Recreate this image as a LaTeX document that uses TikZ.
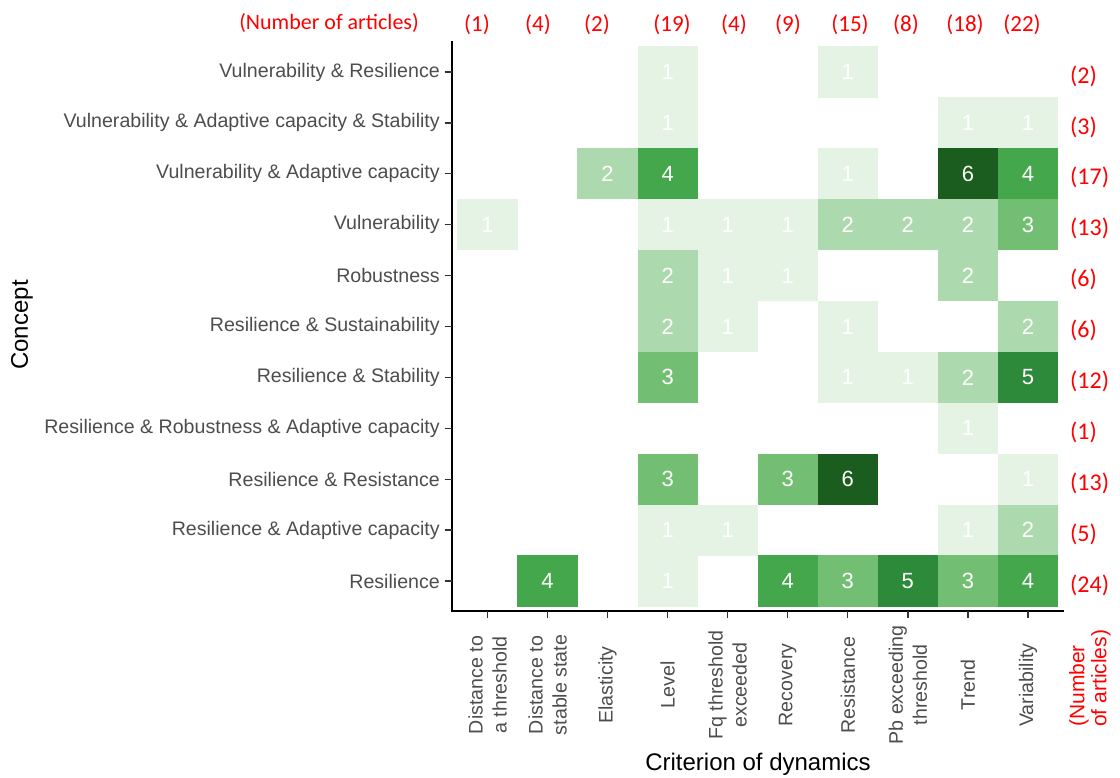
\documentclass[tikz,border=0pt]{standalone}
\usepackage{fontspec}
\setmainfont{Liberation Sans}
\newfontfamily\calfont{Carlito}
\definecolor{g1}{HTML}{E5F3E4}
\definecolor{g2}{HTML}{ADD9AE}
\definecolor{g3}{HTML}{72BF73}
\definecolor{g4}{HTML}{44A74B}
\definecolor{g5}{HTML}{2E8A3B}
\definecolor{g6}{HTML}{1A5D1E}
\definecolor{axgray}{HTML}{4D4D4D}
\definecolor{tickgray}{HTML}{333333}
\definecolor{cred}{HTML}{FF0000}
\begin{document}
\begin{tikzpicture}[x=1pt,y=-1pt,
  cell/.style={minimum width=60.3pt,minimum height=51.2pt,inner sep=0pt,text=white,font=\fontsize{22}{22}\selectfont},
  rowlabel/.style={anchor=east,inner sep=0pt,text=axgray,font=\fontsize{19.6}{22}\selectfont},
  collabel/.style={rotate=90,align=center,inner sep=0pt,text=axgray,font=\fontsize{19.6}{24}\selectfont},
  tcount/.style={inner sep=0pt,text=cred,font=\calfont\fontsize{23}{24}\selectfont},
  rcount/.style={anchor=west,inner sep=0pt,text=cred,font=\calfont\fontsize{24}{24}\selectfont},
  axtitle/.style={inner sep=0pt,text=black,font=\fontsize{24}{26}\selectfont},
  axisline/.style={line width=2pt,black},
  tickline/.style={line width=1.3pt,tickgray}]
\useasboundingbox (0,0) rectangle (1120,778);
% cells
\foreach \c/\r/\v in {4/1/1, 7/1/1, 4/2/1, 9/2/1, 10/2/1, 3/3/2, 4/3/4, 7/3/1, 9/3/6, 10/3/4,
  1/4/1, 4/4/1, 5/4/1, 6/4/1, 7/4/2, 8/4/2, 9/4/2, 10/4/3, 4/5/2, 5/5/1, 6/5/1, 9/5/2,
  4/6/2, 5/6/1, 7/6/1, 10/6/2, 4/7/3, 7/7/1, 8/7/1, 9/7/2, 10/7/5, 9/8/1,
  4/9/3, 6/9/3, 7/9/6, 10/9/1, 4/10/1, 5/10/1, 9/10/1, 10/10/2,
  2/11/4, 4/11/1, 6/11/4, 7/11/3, 8/11/5, 9/11/3, 10/11/4}
  \node[cell,fill=g\v] (cell-\c-\r) at ({487.5+(\c-1)*60.05},{72+(\r-1)*50.9}) {\v};
% axes
\coordinate (ytop) at (451.5,41.5);
\coordinate (orig) at (451.5,611);
\coordinate (xend) at (1064,611);
\draw[axisline] (ytop) -- (orig) -- (xend);
% row labels and ticks
\foreach \r/\t in {1/Vulnerability \& Resilience,
  2/Vulnerability \& Adaptive capacity \& Stability,
  3/Vulnerability \& Adaptive capacity,
  4/Vulnerability,
  5/Robustness,
  6/Resilience \& Sustainability,
  7/Resilience \& Stability,
  8/Resilience \& Robustness \& Adaptive capacity,
  9/Resilience \& Resistance,
  10/Resilience \& Adaptive capacity,
  11/Resilience}{
  \node[rowlabel] (rl-\r) at (440,{72+(\r-1)*50.9}) {\t};
  \draw[tickline] (444.5,{72+(\r-1)*50.9}) -- (451.5,{72+(\r-1)*50.9});
}
% column labels and ticks
\foreach \c/\t in {1/{Distance to\\a threshold},
  2/{Distance to\\stable state},
  3/{Elasticity},
  4/{Level},
  5/{Fq threshold\\exceeded},
  6/{Recovery},
  7/{Resistance},
  8/{Pb exceeding\\threshold},
  9/{Trend},
  10/{Variability}}{
  \node[collabel] (cl-\c) at ({487.5+(\c-1)*60.05},685) {\t};
  \draw[tickline] ({487.5+(\c-1)*60.05},611) -- ({487.5+(\c-1)*60.05},618);
}
% top counts
\node[tcount,font=\calfont\fontsize{22}{24}\selectfont] (ttitle) at (329,23) {(Number of articles)};
\foreach \i/\x/\n in {1/477/1, 2/538/4, 3/597/2, 4/672/19, 5/734/4, 6/788/9, 7/850/15, 8/906/8, 9/965/18, 10/1022/22}
  \node[tcount] (tc-\i) at (\x,25) {(\n)};
% right counts
\foreach \r/\n in {1/2, 2/3, 3/17, 4/13, 5/6, 6/6, 7/12, 8/1, 9/13, 10/5, 11/24}
  \node[rcount] (rc-\r) at (1070,{76+(\r-1)*50.9}) {(\n)};
\node[rotate=90,align=left,anchor=west,inner sep=0pt,text=cred,font=\fontsize{21}{22}\selectfont] (rtitle) at (1090,727) {(Number\\of articles)};
% axis titles
\node[axtitle,rotate=90] (ylab) at (22,325) {Concept};
\node[axtitle] (xlab) at (758,764) {Criterion of dynamics};
\end{tikzpicture}
\end{document}
